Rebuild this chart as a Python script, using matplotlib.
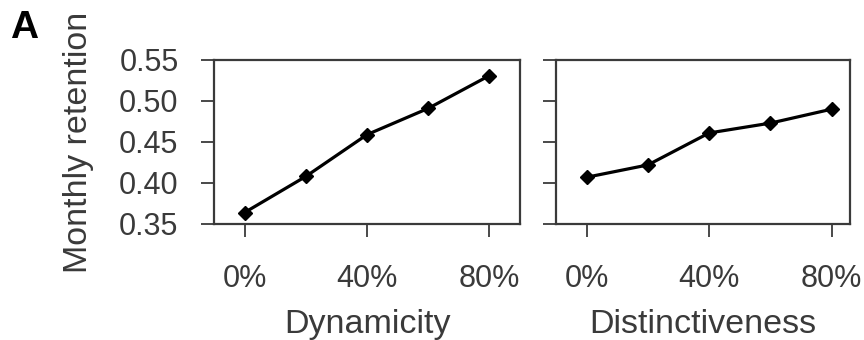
import numpy as np
import matplotlib
matplotlib.use("Agg")
import matplotlib.pyplot as plt
from matplotlib.ticker import FuncFormatter

plt.rcParams['font.family'] = ['Liberation Sans', 'DejaVu Sans']

# data
levels = [0, 20, 40, 60, 80]
dynamicity = [0.364, 0.408, 0.459, 0.491, 0.531]
distinctiveness = [0.407, 0.422, 0.461, 0.473, 0.490]
xticks = [0, 40, 80]
yticks = [0.35, 0.40, 0.45, 0.50, 0.55]
xlabels = ["Dynamicity", "Distinctiveness"]

text_col = "#3a3a3a"
fig = plt.figure(figsize=(8.64, 3.4), dpi=100)
ax1 = fig.add_axes([0.2477, 0.3412, 0.3542, 0.4824])
ax2 = fig.add_axes([0.6435, 0.3412, 0.3403, 0.4824], sharey=ax1)

for ax, vals, lab, xmax in [(ax1, dynamicity, xlabels[0], 90), (ax2, distinctiveness, xlabels[1], 86)]:
    ax.plot(levels, vals, color="black", lw=2.3, marker="D", ms=7)
    ax.set_xlim(-10, xmax)
    ax.set_ylim(0.35, 0.55)
    ax.set_xticks(xticks)
    ax.xaxis.set_major_formatter(FuncFormatter(lambda v, p: f"{v:.0f}%"))
    ax.set_yticks(yticks)
    ax.tick_params(length=9.5, width=1.3, colors=text_col, labelsize=22, pad=19)
    for s in ax.spines.values():
        s.set_color(text_col)
        s.set_linewidth(1.6)
    ax.set_xlabel(lab, fontsize=24.5, color=text_col, labelpad=11)

ax1.yaxis.set_major_formatter(FuncFormatter(lambda v, p: f"{v:.2f}"))
ax1.tick_params(axis="y", pad=16)
ax2.tick_params(axis="y", labelleft=False)
ax1.set_ylabel("Monthly retention", fontsize=24.5, color=text_col, labelpad=18)

fig.text(0.012, 0.97, "A", fontsize=28, fontweight="bold", va="top", ha="left")

fig.savefig("out.png", dpi=100)
